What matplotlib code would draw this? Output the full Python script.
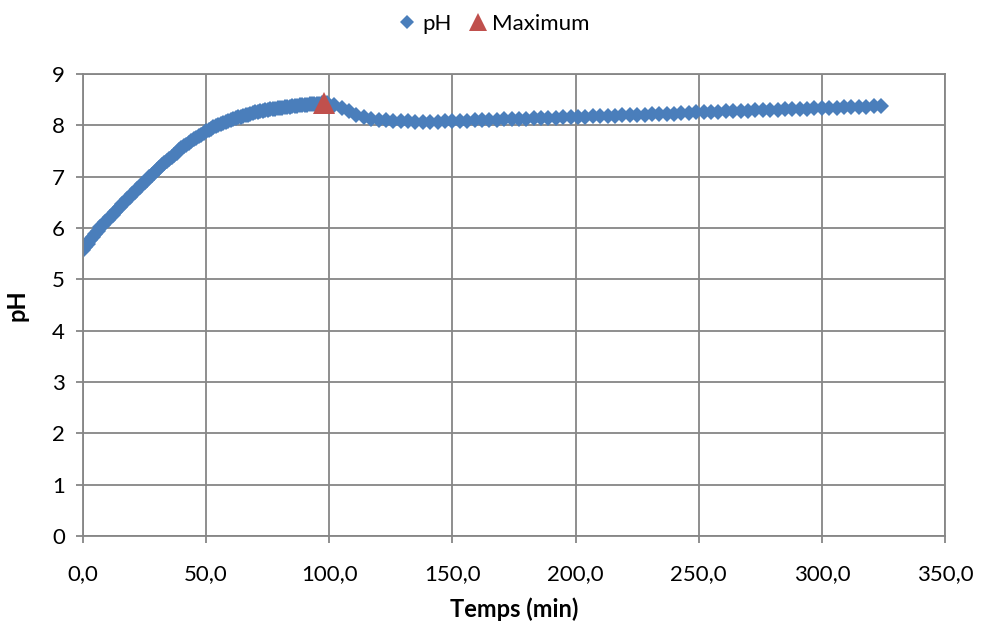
import matplotlib.pyplot as plt
from matplotlib.ticker import FuncFormatter

# temps (min) et pH mesurés : pas de 1 min jusqu'à 99, puis 3 min
temps = [0, 1, 2, 3, 4, 5, 6, 7, 8, 9, 10, 11, 12, 13, 14, 15, 16, 17, 18, 19,
         20, 21, 22, 23, 24, 25, 26, 27, 28, 29, 30, 31, 32, 33, 34, 35, 36, 37, 38, 39,
         40, 41, 42, 43, 44, 45, 46, 47, 48, 49, 50, 51, 52, 53, 54, 55, 56, 57, 58, 59,
         60, 61, 62, 63, 64, 65, 66, 67, 68, 69, 70, 71, 72, 73, 74, 75, 76, 77, 78, 79,
         80, 81, 82, 83, 84, 85, 86, 87, 88, 89, 90, 91, 92, 93, 94, 95, 96, 97, 98, 99,
         102, 105, 108, 111, 114, 117, 120, 123, 126, 129, 132, 135, 138, 141, 144,
         147, 150, 153, 156, 159, 162, 165, 168, 171, 174, 177, 180, 183, 186, 189,
         192, 195, 198, 201, 204, 207, 210, 213, 216, 219, 222, 225, 228, 231, 234,
         237, 240, 243, 246, 249, 252, 255, 258, 261, 264, 267, 270, 273, 276, 279,
         282, 285, 288, 291, 294, 297, 300, 303, 306, 309, 312, 315, 318, 321, 324]
ph = [5.58, 5.62, 5.69, 5.76, 5.83, 5.89, 5.95, 6.01, 6.06, 6.11,
      6.16, 6.21, 6.26, 6.31, 6.36, 6.41, 6.46, 6.51, 6.56, 6.61,
      6.66, 6.71, 6.76, 6.80, 6.85, 6.90, 6.94, 6.99, 7.04, 7.08,
      7.13, 7.17, 7.22, 7.26, 7.31, 7.35, 7.39, 7.43, 7.47, 7.51,
      7.55, 7.59, 7.62, 7.66, 7.69, 7.73, 7.76, 7.79, 7.82, 7.85,
      7.88, 7.91, 7.93, 7.96, 7.98, 8.01, 8.03, 8.05, 8.07, 8.09,
      8.11, 8.13, 8.14, 8.16, 8.17, 8.19, 8.20, 8.21, 8.23, 8.24,
      8.25, 8.26, 8.27, 8.28, 8.29, 8.30, 8.31, 8.32, 8.32, 8.33,
      8.34, 8.34, 8.35, 8.36, 8.36, 8.37, 8.37, 8.38, 8.39, 8.39,
      8.40, 8.40, 8.41, 8.41, 8.42, 8.42, 8.42, 8.43, 8.43, 8.43,
      8.40, 8.34, 8.27, 8.21, 8.16, 8.13, 8.11, 8.10, 8.09, 8.08,
      8.08, 8.07, 8.07, 8.07, 8.07, 8.08, 8.08, 8.09, 8.09, 8.10,
      8.10, 8.11, 8.11, 8.12, 8.12, 8.13, 8.13, 8.14, 8.14, 8.15,
      8.15, 8.16, 8.16, 8.17, 8.17, 8.18, 8.18, 8.19, 8.19, 8.20,
      8.20, 8.21, 8.21, 8.22, 8.22, 8.23, 8.23, 8.24, 8.24, 8.25,
      8.25, 8.26, 8.26, 8.27, 8.27, 8.28, 8.28, 8.29, 8.29, 8.30,
      8.30, 8.31, 8.31, 8.32, 8.32, 8.33, 8.33, 8.34, 8.34, 8.35,
      8.35, 8.36, 8.36, 8.37, 8.37]
t_max = [97.8]
ph_max = [8.44]

plt.rcParams['font.family'] = ['Lato', 'DejaVu Sans']

fig = plt.figure(figsize=(9.84, 6.28), dpi=100)
ax = fig.add_axes([0.0843, 0.1465, 0.8761, 0.7357])

ax.plot(temps, ph, linestyle='none', marker='D', markersize=8.3,
        color='#4A7EBB', markeredgewidth=0, label='pH')
ax.plot(t_max, ph_max, linestyle='none', marker='^', markersize=16,
        color='#C0504D', markeredgewidth=0, label='Maximum')

ax.set_xlim(0, 350)
ax.set_ylim(0, 9)
ax.set_xticks(range(0, 351, 50))
ax.set_yticks(range(0, 10))
ax.xaxis.set_major_formatter(FuncFormatter(lambda v, p: f"{v:.1f}".replace('.', ',')))
ax.grid(True, color='#868686', linewidth=1.3)
ax.set_axisbelow(True)
for s in ax.spines.values():
    s.set_color('#868686')
    s.set_linewidth(1.3)
ax.tick_params(axis='both', colors='#868686', labelcolor='black', labelsize=16,
               length=5, width=1.3)
ax.tick_params(axis='x', pad=15)
ax.tick_params(axis='y', pad=8)

ax.set_xlabel('Temps (min)', fontsize=17, fontweight='bold', labelpad=10)
ax.set_ylabel('pH', fontsize=17, fontweight='bold', labelpad=17)

fig.legend(loc='upper center', bbox_to_anchor=(0.50, 1.01), ncol=2, frameon=False,
           fontsize=16, handletextpad=0.05, columnspacing=0.6, markerscale=0.8,
           handlelength=1.2)

fig.savefig('out.png', dpi=100)
